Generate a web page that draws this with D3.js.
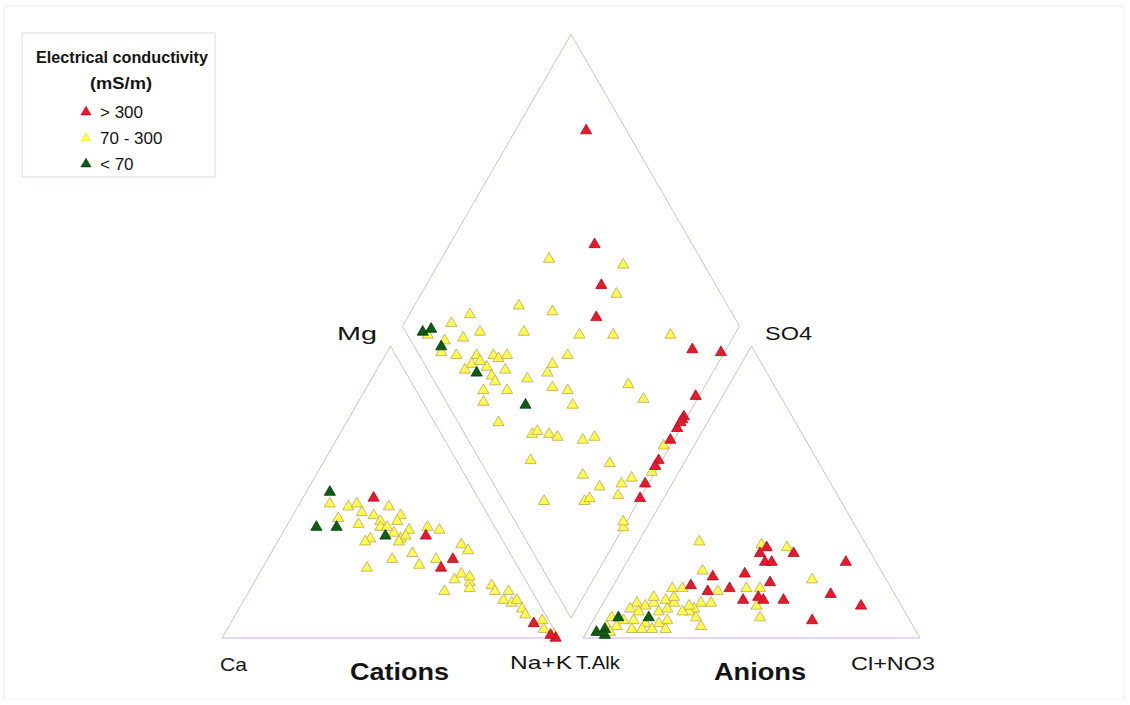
<!DOCTYPE html>
<html><head><meta charset="utf-8">
<script src="https://cdn.jsdelivr.net/npm/d3@7/dist/d3.min.js"></script>
<style>html,body{margin:0;padding:0;background:#fff;}svg{display:block;font-family:"Liberation Sans",Arial,sans-serif;}</style>
</head><body>
<svg id="c" width="1130" height="705"></svg>
<script>
// EC classes
const ecClasses = ["hi", "mid", "lo"];
const ecLabels = ["> 300", "70 - 300", "< 70"];
const ecColors = {hi: "#e8192c", mid: "#ffff4a", lo: "#0c5c14"};
const ecStroke = {hi: "#a3101e", mid: "#bf9f66", lo: "#053a09"};

// Cations: [Na+K %, Mg %, class]  (Ca = 100 - Na+K - Mg)
const cations = [
[7,50,"lo"],[9,46,"mid"],[21,48,"hi"],[9,38,"lo"],[15,38,"lo"],[14,41,"mid"],[15,45,"mid"],[17,46,"mid"],
[20,43,"mid"],[21,39,"mid"],[24,42,"mid"],[27,40,"mid"],[27,45,"mid"],[32,42,"mid"],[32,40,"mid"],[31,35,"lo"],
[33,36,"mid"],[36,34,"mid"],[37,37,"mid"],[37,35,"mid"],[36,33,"mid"],[27,34,"mid"],[43,35,"hi"],[42,38,"mid"],
[46,37,"mid"],[37,27,"mid"],[31,24,"mid"],[42,29,"mid"],[46,25,"mid"],[50,27,"mid"],[55,27,"hi"],[53,24,"hi"],
[55,32,"mid"],[58,30,"mid"],[59,20,"mid"],[60,22,"mid"],[64,19,"mid"],[63,21,"mid"],[58,16,"mid"],[71,18,"mid"],
[73,16,"mid"],[77,16,"mid"],[77,13,"mid"],[80,12,"mid"],[81,13,"mid"],[84,10,"mid"],[86,8,"mid"],[90,5,"hi"],
[92,6,"mid"],[94,3,"mid"],[98,1,"mid"],[99,0,"hi"],[28,38,"mid"],[26,33,"mid"],[65,17,"mid"],[97,1,"hi"],[30,38,"mid"]
];

// Anions: [Cl+NO3 %, SO4 %, class]  (T.Alk = 100 - Cl - SO4)
const anions = [
[18,33,"mid"],[37,32,"mid"],[39,31,"hi"],[45,31,"mid"],[48,29,"hi"],[38,29,"hi"],[41,26,"hi"],[43,26,"hi"],
[65,26,"hi"],[24,23,"mid"],[37,22,"hi"],[28,21,"hi"],[46,19,"hi"],[58,20,"mid"],[23,18,"hi"],[29,16,"hi"],
[35,17,"hi"],[32,16,"mid"],[40,17,"mid"],[44,17,"mid"],[21,17,"mid"],[41,13,"hi"],[45,14,"hi"],[47,13,"hi"],
[53,13,"hi"],[66,15,"hi"],[46,11,"mid"],[77,11,"hi"],[29,12,"mid"],[32,12,"mid"],[28,10,"mid"],[27,9,"mid"],
[49,7,"mid"],[65,6,"hi"],[33,4,"mid"],[18,17,"mid"],[10,12,"mid"],[13,11,"mid"],[15,12,"mid"],[18,13,"mid"],
[21,12,"mid"],[26,11,"mid"],[9,10,"mid"],[12,9,"mid"],[18,9,"mid"],[20,10,"mid"],[25,9,"mid"],[30,7,"mid"],
[5,7,"mid"],[9,6,"mid"],[12,6,"mid"],[16,5,"mid"],[20,5,"mid"],[22,6,"mid"],[8,4,"mid"],[13,3,"mid"],
[16,3,"mid"],[19,3,"mid"],[23,3,"mid"],[5,4,"mid"],[7,2,"mid"],[14,14,"mid"],[20,14,"mid"],
[3,2,"lo"],[5,3,"lo"],[7,7,"lo"],[16,7,"lo"],[6,1,"lo"]
];

// Diamond: [Ca+Mg %, Cl+SO4 %, class]
const diamond = [
[79,88,"hi"],[57,71,"hi"],[68,55,"mid"],[45,76,"mid"],[48,66,"hi"],[42,69,"mid"],[44,59,"hi"],[69,38,"mid"],
[58,47,"mid"],[82,22,"mid"],[86,15,"mid"],[93,5,"lo"],[91,8,"lo"],[91,6,"mid"],[80,16,"mid"],[76,22,"mid"],
[63,35,"mid"],[46,51,"mid"],[36,61,"mid"],[19,78,"mid"],[10,82,"hi"],[1,90,"hi"],[85,8,"lo"],[84,7,"mid"],
[85,10,"mid"],[79,11,"mid"],[73,17,"mid"],[73,14,"mid"],[74,11,"mid"],[68,22,"mid"],[66,23,"mid"],[64,26,"mid"],
[68,18,"mid"],[71,17,"mid"],[70,14,"lo"],[65,18,"mid"],[63,18,"mid"],[62,23,"mid"],[65,13,"mid"],[58,20,"mid"],
[63,11,"mid"],[54,28,"mid"],[49,35,"mid"],[49,38,"mid"],[46,44,"mid"],[45,34,"mid"],[40,38,"mid"],[36,37,"mid"],
[50,23,"lo"],[23,57,"mid"],[16,59,"mid"],[1,75,"hi"],[1,68,"hi"],[1,67,"hi"],[1,64,"hi"],[1,66,"hi"],
[55,12,"mid"],[43,20,"mid"],[42,22,"mid"],[38,25,"mid"],[35,27,"mid"],[27,34,"mid"],[24,38,"mid"],[1,60,"hi"],
[2,57,"mid"],[39,15,"mid"],[15,38,"mid"],[1,53,"hi"],[1,51,"hi"],[1,49,"mid"],[1,45,"hi"],[21,28,"mid"],
[14,31,"mid"],[8,38,"mid"],[6,42,"mid"],[28,12,"mid"],[16,24,"mid"],[15,26,"mid"],[7,35,"mid"],[0,41,"hi"],
[0,31,"mid"],[1,32,"mid"]
];

const svg = d3.select("#c");
const SQ = Math.sqrt(3) / 2;
const side = 337;

// faint frame
svg.append("rect").attr("x", 4).attr("y", 6).attr("width", 1120).attr("height", 693)
  .attr("fill", "none").attr("stroke", "#f0eeee").attr("stroke-width", 1);

// scales
const cx = d3.scaleLinear().domain([0, 1]).range([222, 222 + side]);
const cy = d3.scaleLinear().domain([0, SQ]).range([638, 638 - side * SQ]);
const ax = d3.scaleLinear().domain([0, 1]).range([583, 583 + side]);
const ay = d3.scaleLinear().domain([0, SQ]).range([638, 638 - side * SQ]);
const dx = d3.scaleLinear().domain([-0.5, 0.5]).range([571 - side / 2, 571 + side / 2]);
const dy = d3.scaleLinear().domain([0, 2 * SQ]).range([618, 618 - 2 * side * SQ]);

function tern(a, b) { a /= 100; b /= 100; return [a + b / 2, b * SQ]; }
function dia(u, v) { u /= 100; v /= 100; return [(v - u) / 2, (u + v) * SQ]; }

const sideCol = "#cfc2b4", baseCol = "#c9b6e8";
function triOutline(sx, sy) {
  const p0 = [sx(0), sy(0)], p1 = [sx(1), sy(0)], p2 = [sx(0.5), sy(SQ)];
  svg.append("path").attr("d", d3.line()([p1, p2, p0])).attr("fill", "none")
    .attr("stroke", sideCol).attr("stroke-width", 1);
  svg.append("path").attr("d", d3.line()([p0, p1])).attr("fill", "none")
    .attr("stroke", baseCol).attr("stroke-width", 1.2);
}
triOutline(cx, cy);
triOutline(ax, ay);
svg.append("path").attr("d", d3.line().curve(d3.curveLinearClosed)([
  [dx(0), dy(0)], [dx(-0.5), dy(SQ)], [dx(0), dy(2 * SQ)], [dx(0.5), dy(SQ)]
])).attr("fill", "none").attr("stroke", sideCol).attr("stroke-width", 1)
  .attr("stroke-linejoin", "round");

const sym = d3.symbol().type(d3.symbolTriangle).size(54);
const order = {mid: 0, hi: 1, lo: 2};
function plot(data, fx, fy, conv) {
  const sorted = data.slice().sort((a, b) => order[a[2]] - order[b[2]]);
  svg.append("g").selectAll("path").data(sorted).join("path")
    .attr("d", sym)
    .attr("transform", d => { const p = conv(d[0], d[1]); return `translate(${fx(p[0])},${fy(p[1])})`; })
    .attr("fill", d => ecColors[d[2]])
    .attr("stroke", d => ecStroke[d[2]])
    .attr("stroke-width", 0.8);
}
plot(diamond, dx, dy, dia);
plot(cations, cx, cy, tern);
plot(anions, ax, ay, tern);

// labels
function label(t, x, y, size, w, weight, anchor) {
  const e = svg.append("text").attr("x", x).attr("y", y).attr("font-size", size)
    .attr("font-weight", weight || "normal").attr("fill", "#141414").text(t);
  if (w) e.attr("textLength", w).attr("lengthAdjust", "spacingAndGlyphs");
  if (anchor) e.attr("text-anchor", anchor);
}
label("Mg", 337, 340, 19, 40);
label("SO4", 765, 340, 19, 47);
label("Ca", 220, 671, 19, 27);
label("Na+K", 510, 669, 19, 62);
label("T.Alk", 576, 669, 19, 44);
label("Cl+NO3", 851, 670, 19, 84);
label("Cations", 350, 680, 23, 99, "bold");
label("Anions", 714, 680, 23, 92, "bold");

// legend
const lg = svg.append("g");
lg.append("rect").attr("x", 22).attr("y", 33).attr("width", 193).attr("height", 144)
  .attr("fill", "#fff").attr("stroke", "#e6dde3").attr("stroke-width", 1.2);
label("Electrical conductivity", 36, 63, 17, 172, "bold");
label("(mS/m)", 90, 89, 17, 62, "bold");
ecClasses.forEach((c, i) => {
  const yy = 112 + i * 26;
  lg.append("path").attr("d", d3.symbol().type(d3.symbolTriangle).size(44))
    .attr("transform", `translate(86,${yy})`).attr("fill", ecColors[c])
    .attr("stroke", c === "mid" ? "#e8e070" : ecStroke[c]).attr("stroke-width", 0.6);
  label(ecLabels[i], 100, yy + 6, 17, null);
});
</script>
</body></html>
